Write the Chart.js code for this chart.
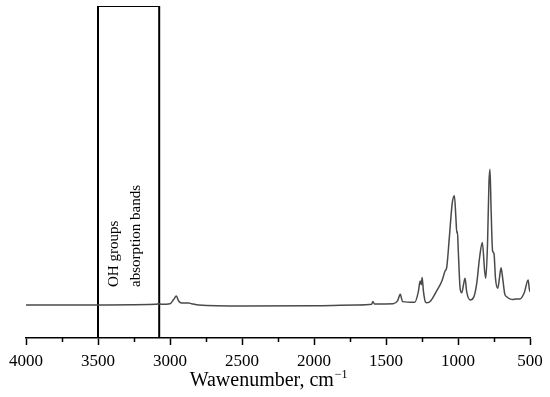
<!DOCTYPE html>
<html>
<head>
<meta charset="utf-8">
<script src="https://cdn.jsdelivr.net/npm/chart.js@4.4.1/dist/chart.umd.min.js"></script>
<style>
  html, body { margin: 0; padding: 0; background: #fff; }
</style>
</head>
<body>
<canvas id="chart" width="550" height="397"></canvas>
<script>
// IR spectrum (absorbance in arbitrary units, main peak = 1)
const wavenumbers = [4000, 3600, 3100, 3075, 3060, 3000, 2975, 2956, 2940, 2920, 2870, 2850, 2800,
  2500, 2000, 1700, 1600, 1591, 1580, 1450, 1420, 1401, 1385, 1300, 1275, 1263, 1255, 1249, 1240,
  1225, 1216, 1190, 1150, 1112, 1090, 1078, 1060, 1040, 1025, 1015, 1008, 1004, 998, 985, 974,
  960, 951, 940, 916, 890, 870, 850, 831, 815, 807, 795, 785, 778, 770, 760, 750, 740, 724,
  712, 701, 690, 675, 662, 640, 618, 600, 570, 540, 513, 505, 500];
const absorbance = [0, 0, 0.005, 0.01, 0.005, 0.01, 0.04, 0.066, 0.03, 0.015, 0.015, 0.01, 0,
  -0.008, -0.005, 0, 0.005, 0.025, 0.008, 0.01, 0.03, 0.079, 0.025, 0.02, 0.1, 0.177, 0.15, 0.202, 0.1,
  0.02, 0.017, 0.03, 0.1, 0.177, 0.25, 0.28, 0.5, 0.75, 0.805, 0.65, 0.53, 0.54, 0.4, 0.12, 0.09,
  0.16, 0.197, 0.1, 0.037, 0.06, 0.16, 0.35, 0.46, 0.25, 0.197, 0.45, 0.9, 1.0, 0.7, 0.4, 0.38, 0.2, 0.123,
  0.2, 0.274, 0.2, 0.08, 0.061, 0.045, 0.04, 0.045, 0.044, 0.09, 0.184, 0.12, 0.098];

// OH band box
const boxFrom = 3500;
const boxTo = 3075;
const boxLabel = ['OH groups', 'absorption bands'];

const xTicks = [4000, 3500, 3000, 2500, 2000, 1500, 1000, 500];
const minorTicks = [3750, 3250, 2750, 2250, 1750, 1250, 750];
const xTitle = 'Wawenumber, cm';
const xTitleSup = '\u22121';

const yMin = -0.243;
const yMax = 2.203;

const spectrum = wavenumbers.map((w, i) => ({ x: w, y: absorbance[i] }));
const box = [
  { x: boxFrom, y: yMin }, { x: boxFrom, y: yMax },
  { x: boxTo, y: yMax }, { x: boxTo, y: yMin }
];

const serif = '"Liberation Serif", "Times New Roman", serif';

const extras = {
  id: 'extras',
  afterDraw(chart) {
    const ctx = chart.ctx;
    const x = chart.scales.x;
    const area = chart.chartArea;
    ctx.save();
    // minor ticks
    ctx.strokeStyle = '#000';
    ctx.lineWidth = 1.5;
    minorTicks.forEach(t => {
      const px = Math.round(x.getPixelForValue(t)) + 0.5;
      ctx.beginPath();
      ctx.moveTo(px, area.bottom);
      ctx.lineTo(px, area.bottom + 4);
      ctx.stroke();
    });

    // axis title with superscript
    ctx.fillStyle = '#000';
    ctx.textBaseline = 'alphabetic';
    ctx.font = '20px ' + serif;
    const mainW = ctx.measureText(xTitle).width;
    ctx.font = '12px ' + serif;
    const supW = ctx.measureText(xTitleSup).width;
    const startX = x.getPixelForValue(2315) - (mainW + supW + 1) / 2;
    ctx.font = '20px ' + serif;
    ctx.textAlign = 'left';
    ctx.fillText(xTitle, startX, area.bottom + 48);
    ctx.font = '12px ' + serif;
    ctx.fillText(xTitleSup, startX + mainW + 1, area.bottom + 40);

    // rotated box label
    const left = x.getPixelForValue(boxFrom);
    ctx.font = '15px ' + serif;
    ctx.textAlign = 'left';
    ctx.textBaseline = 'middle';
    ctx.translate(left, 287);
    ctx.rotate(-Math.PI / 2);
    ctx.fillText(boxLabel[0], 0, 16);
    ctx.fillText(boxLabel[1], 0, 38);
    ctx.restore();
  }
};

new Chart(document.getElementById('chart'), {
  type: 'line',
  data: {
    datasets: [
      {
        data: spectrum,
        borderColor: '#4a4a4a',
        borderWidth: 1.5,
        pointRadius: 0,
        cubicInterpolationMode: 'monotone'
      },
      {
        data: box,
        borderColor: '#000',
        borderWidth: 2,
        pointRadius: 0,
        tension: 0
      }
    ]
  },
  options: {
    responsive: false,
    animation: false,
    layout: { padding: { left: 26, right: 20, top: 6, bottom: 0 } },
    plugins: { legend: { display: false }, tooltip: { enabled: false } },
    scales: {
      x: {
        type: 'linear',
        reverse: true,
        min: 500,
        max: 4000,
        afterBuildTicks: axis => { axis.ticks = xTicks.map(v => ({ value: v })); },
        afterFit: axis => { axis.height = 59; },
        grid: { drawOnChartArea: false, tickLength: 7, tickColor: '#000', tickWidth: 1.5 },
        border: { color: '#000', width: 1.5 },
        ticks: {
          color: '#000',
          font: { family: serif, size: 17 },
          padding: 6,
          maxRotation: 0,
          callback: v => String(v)
        },
        title: { display: false }
      },
      y: {
        display: false,
        min: yMin,
        max: yMax
      }
    }
  },
  plugins: [extras]
});
</script>
</body>
</html>
